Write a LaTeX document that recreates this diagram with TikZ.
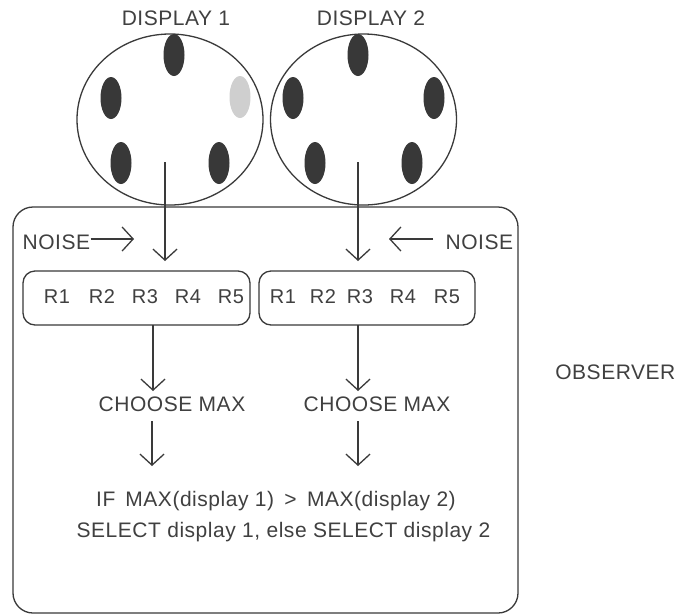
\documentclass[tikz,border=0pt]{standalone}
\usepackage{fontspec}
\setmainfont[LetterSpace=2.5]{Liberation Sans}
\usetikzlibrary{arrows.meta,shapes.geometric}
\definecolor{ink}{HTML}{3A3A3A}
\definecolor{txt}{HTML}{404040}
\definecolor{dot}{HTML}{383838}
\definecolor{pale}{HTML}{CFCFCF}
\begin{document}
\begin{tikzpicture}[x=1pt,y=-1pt,line width=1.3pt,
  every node/.style={text=txt,font=\fontsize{21}{25}\selectfont,inner sep=0pt},
  disp/.style={draw=ink,ellipse,minimum width=186pt,minimum height=171pt},
  spot/.style={ellipse,fill=dot,minimum width=21pt,minimum height=42pt},
  rbox/.style={draw=ink,rounded corners=12pt,minimum height=54pt},
  rlab/.style={font=\fontsize{20}{24}\selectfont},
  arr/.style={draw=ink,-{Straight Barb[length=11pt,width=24pt,line width=1.3pt]}}]
\useasboundingbox (0,0) rectangle (677,614);
\fill[white] (0,0) rectangle (677,614);
% observer box
\node[draw=ink,rounded corners=20pt,minimum width=505pt,minimum height=406pt] (obs) at (265.5,410) {};
% displays
\node[disp] (disp1) at (170,119.5) {};
\node[disp] (disp2) at (363.5,119.5) {};
\node (t1) at (176,18) {DISPLAY 1};
\node (t2) at (371,18) {DISPLAY 2};
% spots display 1
\node[spot] (a1) at (174,55) {};
\node[spot] (a2) at (111,98) {};
\node[spot,fill=pale] (a3) at (240,97) {};
\node[spot] (a4) at (121,163) {};
\node[spot] (a5) at (219,163) {};
% spots display 2
\node[spot] (b1) at (358,55) {};
\node[spot] (b2) at (293,98) {};
\node[spot] (b3) at (434,98) {};
\node[spot] (b4) at (315,163) {};
\node[spot] (b5) at (412,163) {};
% arrows from displays
\coordinate (s1) at (165,162);
\coordinate (e1) at (165,261);
\coordinate (s2) at (358,162);
\coordinate (e2) at (358,261);
\draw[arr] (s1) -- (e1);
\draw[arr] (s2) -- (e2);
% noise
\node[anchor=west] (n1) at (22,242) {NOISE};
\coordinate (n1e) at (134,239);
\draw[arr] (n1.east |- n1e) -- (n1e);
\node[anchor=west] (n2) at (445,242) {NOISE};
\coordinate (n2s) at (433,239);
\coordinate (n2e) at (389,239);
\draw[arr] (n2s) -- (n2e);
% R boxes
\node[rbox,minimum width=227pt] (box1) at (136.5,298) {};
\node[rbox,minimum width=216pt] (box2) at (367,298) {};
\node[rlab] (r11) at (57,297) {R1};
\node[rlab] (r12) at (102,297) {R2};
\node[rlab] (r13) at (145,297) {R3};
\node[rlab] (r14) at (188,297) {R4};
\node[rlab] (r15) at (231,297) {R5};
\node[rlab] (r21) at (283,297) {R1};
\node[rlab] (r22) at (323,297) {R2};
\node[rlab] (r23) at (360,297) {R3};
\node[rlab] (r24) at (403,297) {R4};
\node[rlab] (r25) at (447,297) {R5};
% choose max
\coordinate (c1s) at (153,325);
\coordinate (c1e) at (153,391);
\coordinate (c2s) at (358,325);
\coordinate (c2e) at (358,391);
\draw[arr] (c1s) -- (c1e);
\draw[arr] (c2s) -- (c2e);
\node (cm1) at (172,404) {CHOOSE MAX};
\node (cm2) at (377,404) {CHOOSE MAX};
\coordinate (d1s) at (152,421);
\coordinate (d1e) at (152,466);
\coordinate (d2s) at (358,421);
\coordinate (d2e) at (358,466);
\draw[arr] (d1s) -- (d1e);
\draw[arr] (d2s) -- (d2e);
% decision
\node (if) at (276,501) {IF\hspace{10pt}MAX(display 1)\hspace{4pt} >\hspace{4pt} MAX(display 2)};
\node (sel) at (283.5,532) {SELECT display 1, else SELECT display 2};
% observer label
\node[anchor=east] (ob) at (676,372) {OBSERVER};
\end{tikzpicture}
\end{document}
